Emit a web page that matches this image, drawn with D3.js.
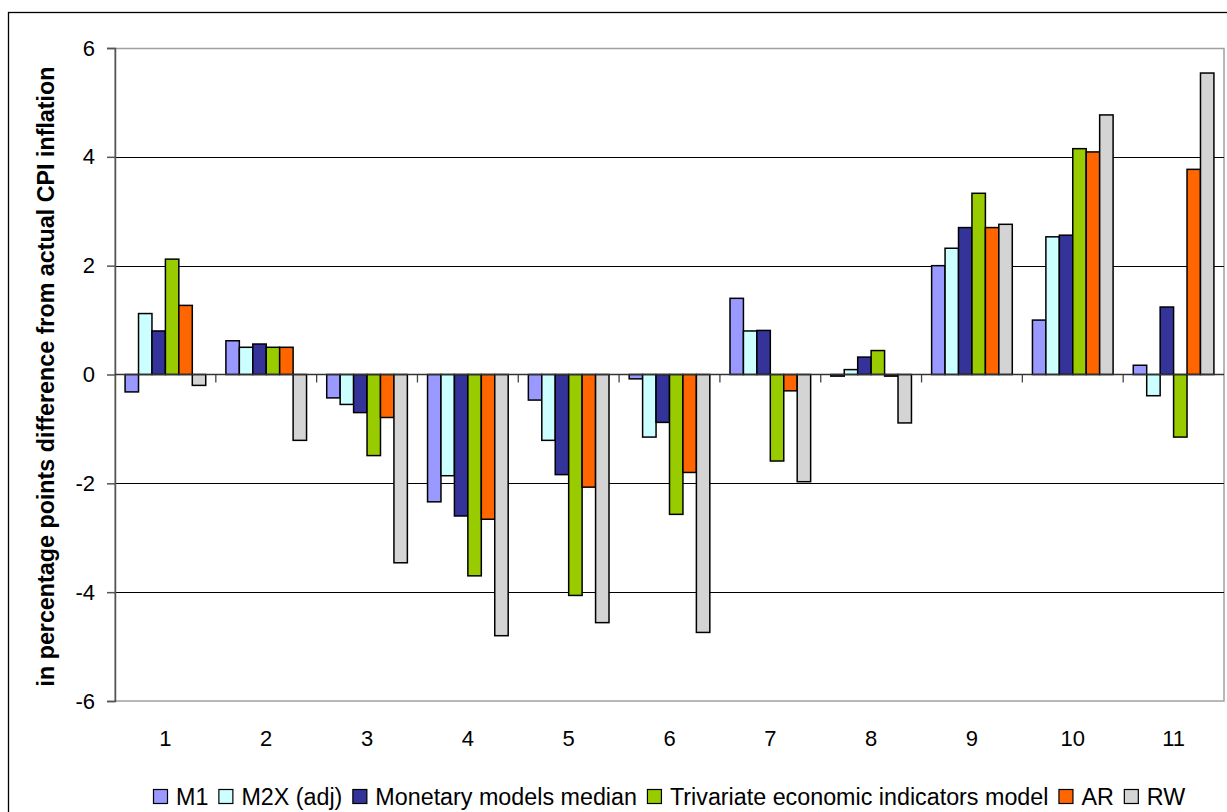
<!DOCTYPE html>
<html><head><meta charset="utf-8">
<script src="https://cdn.jsdelivr.net/npm/d3@7"></script>
<style>body{margin:0;background:#fff}svg{display:block;font-family:"Liberation Sans",Arial,sans-serif}</style>
</head><body><svg id="c" width="1227" height="812"></svg>
<script>
const categories = ["1","2","3","4","5","6","7","8","9","10","11"];
const seriesNames = ["M1","M2X (adj)","Monetary models median","Trivariate economic indicators model","AR","RW"];
const seriesColors = ["#9999FF","#CCFFFF","#333399","#99CC00","#FF6600","#D4D4D4"];
const m1      = [-0.32, 0.62, -0.43, -2.34, -0.47, -0.08, 1.40, -0.03, 2.00, 1.00, 0.17];
const m2x     = [ 1.12, 0.50, -0.55, -1.86, -1.21, -1.15, 0.80,  0.09, 2.32, 2.53, -0.39];
const median  = [ 0.80, 0.56, -0.70, -2.60, -1.84, -0.88, 0.81,  0.32, 2.70, 2.56, 1.24];
const trivar  = [ 2.12, 0.50, -1.49, -3.70, -4.06, -2.57, -1.59, 0.44, 3.33, 4.15, -1.15];
const ar      = [ 1.27, 0.50, -0.79, -2.66, -2.07, -1.80, -0.30, -0.03, 2.70, 4.09, 3.77];
const rw      = [-0.20, -1.21, -3.46, -4.80, -4.56, -4.74, -1.97, -0.89, 2.76, 4.77, 5.54];
const yTicks  = [-6,-4,-2,0,2,4,6];
const yTitle  = "in percentage points difference from actual CPI inflation";

const seriesValues = [m1, m2x, median, trivar, ar, rw];
const svg = d3.select("#c");
const L = 115, R = 1224, T = 48, B = 701;

// outer border
svg.append("rect").attr("x",8.5).attr("y",12.5).attr("width",1240).attr("height",820)
  .attr("fill","none").attr("stroke","#000").attr("stroke-width",1.3);

const x = d3.scaleBand().domain(categories).range([L,R]).paddingInner(0).paddingOuter(0);
const y = d3.scaleLinear().domain([-6,6]).range([B,T]);
// gap width 150%: six bars plus 0.75 bar width on each side
const bw = x.bandwidth()/7.5;
function barX(ci, si){ return x(categories[ci]) + 0.75*bw + si*bw; }

// plot area border (gray)
svg.append("rect").attr("x",L).attr("y",T+0.5).attr("width",R-L).attr("height",B-T-0.5)
  .attr("fill","none").attr("stroke","#a0a0a0").attr("stroke-width",1.5);

// gridlines
svg.append("g").selectAll("line").data(yTicks.filter(d=>d!==6 && d!==-6 && d!==0)).join("line")
  .attr("x1",L).attr("x2",R).attr("y1",d=>Math.round(y(d))+0.5).attr("y2",d=>Math.round(y(d))+0.5)
  .attr("stroke","#000").attr("stroke-width",1);

// y axis
const yAxis = d3.axisLeft(y).tickValues(yTicks).tickSize(8).tickPadding(12).tickFormat(d=>String(d));
const ga = svg.append("g").attr("transform",`translate(${L},0)`).call(yAxis);
ga.attr("font-size",null).attr("font-family",null);
ga.select(".domain").attr("stroke","#555").attr("stroke-width",1.5);
ga.selectAll(".tick line").attr("stroke","#555").attr("stroke-width",1.5);
ga.selectAll(".tick text").attr("font-size",22).attr("fill","#000");

// bars
seriesValues.forEach((vals, si) => {
  svg.append("g").selectAll("rect").data(vals).join("rect")
    .attr("x",(d,i)=>barX(i,si))
    .attr("width",bw)
    .attr("y",d=>y(Math.max(0,d)))
    .attr("height",d=>Math.abs(y(d)-y(0)))
    .attr("fill",seriesColors[si])
    .attr("stroke","#000").attr("stroke-width",1.5);
});

// category axis at zero with boundary ticks
svg.append("g").selectAll("line").data(categories.slice(1)).join("line")
  .attr("x1",d=>x(d)).attr("x2",d=>x(d)).attr("y1",y(0)).attr("y2",y(0)+8)
  .attr("stroke","#444").attr("stroke-width",1.3);
svg.append("line").attr("x1",L).attr("x2",R).attr("y1",y(0)).attr("y2",y(0)).attr("stroke","#333").attr("stroke-width",1.5);

// category labels
svg.append("g").selectAll("text").data(categories).join("text")
  .attr("x",d=>x(d)+x.bandwidth()/2).attr("y",746)
  .attr("text-anchor","middle").attr("font-size",22).text(d=>d);

// y title
svg.append("text").attr("transform",`translate(54,${(T+B)/2+2}) rotate(-90)`)
  .attr("text-anchor","middle").attr("font-size",23.3).attr("font-weight","bold").text(yTitle);

// legend
const lg = svg.append("g");
let lx = 153;
seriesNames.forEach((n,i)=>{
  lg.append("rect").attr("x",lx+0.5).attr("y",789.5).attr("width",14).attr("height",14)
    .attr("fill",seriesColors[i]).attr("stroke","#000").attr("stroke-width",1.2);
  const t = lg.append("text").attr("x",lx+23).attr("y",805).attr("font-size",23.3).text(n);
  lx += 23 + t.node().getComputedTextLength() + 10;
});
</script></body></html>
